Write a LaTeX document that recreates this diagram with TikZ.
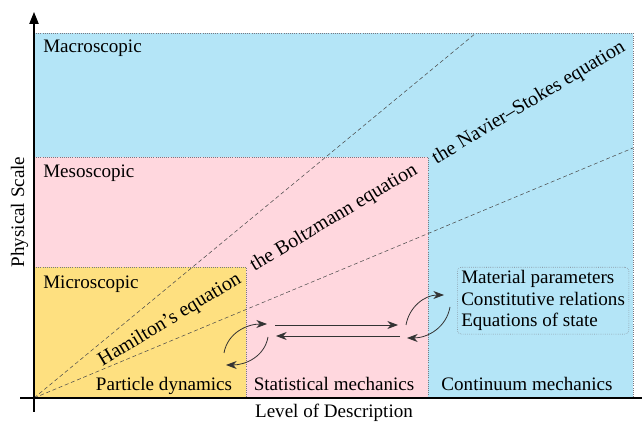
\documentclass[tikz,border=0pt]{standalone}
\usepackage{fontspec}
\setmainfont{Liberation Serif}
\usetikzlibrary{arrows.meta}
\definecolor{macro}{RGB}{180,229,247}
\definecolor{meso}{RGB}{255,215,222}
\definecolor{micro}{RGB}{254,224,128}
\definecolor{bord}{RGB}{120,120,130}
\tikzset{
  region/.style={draw=bord, densely dotted, line width=0.6pt},
  lbl/.style={font=\fontsize{14.3}{16}\selectfont, inner sep=0pt},
  eqn/.style={font=\fontsize{15}{17}\selectfont, inner sep=0pt, rotate=31},
  guide/.style={densely dashed, draw=black!70, line width=0.4pt},
  arr/.style={-{Stealth[length=8pt,width=6pt]}, line width=0.6pt, draw=black!80},
}
\begin{document}
\begin{tikzpicture}[x=0.75pt,y=-0.75pt]
\useasboundingbox (0,0) rectangle (642,423);
\coordinate (O) at (34,398);
\fill[macro] (34,33) rectangle (633,398);
\draw[region] (34,33) -- (633,33) -- (633,398);
\fill[meso] (34,157) rectangle (428,398);
\draw[region] (34,157) -- (428,157) -- (428,398);
\fill[micro] (34,267) rectangle (246,398);
\draw[region] (34,267) -- (246,267) -- (246,398);
\coordinate (g1) at (476,33);
\coordinate (g2) at (633,148);
\draw[guide] (O) -- (g1);
\draw[guide] (O) -- (g2);
% axes
\coordinate (yb) at (34,412);
\coordinate (yt) at (34,12);
\coordinate (xl) at (20,398);
\coordinate (xr) at (642,398);
\draw[line width=0.8pt, -{Triangle[length=9pt,width=7pt]}] (yb) -- (yt);
\draw[line width=0.8pt] (xl) -- (xr);
\node[lbl, anchor=base west] (macro) at (43,53) {Macroscopic};
\node[lbl, anchor=base west] (meso) at (43,178) {Mesoscopic};
\node[lbl, anchor=base west] (micro) at (43,289) {Microscopic};
\node[lbl, anchor=base] (pd) at (164,391) {Particle dynamics};
\node[lbl, anchor=base] (sm) at (334,391) {Statistical mechanics};
\node[lbl, anchor=base] (cm) at (527,391) {Continuum mechanics};
\node[lbl, anchor=base] (xlab) at (334,417) {Level of Description};
\node[lbl, rotate=90, anchor=base] (ylab) at (24,212) {Physical Scale};
\node[eqn] (ham) at (170,320) {Hamilton’s equation};
\node[eqn] (boltz) at (334,218) {the Boltzmann equation};
\node[eqn] (ns) at (529,103) {the Navier–Stokes equation};
\node[draw=bord, densely dotted, rounded corners=3pt, inner xsep=3pt, inner ysep=2.5pt, align=left, anchor=north west,
      font=\fontsize{14.3}{16.1}\selectfont] (box) at (457,267)
  {Material parameters\\Constitutive relations\\Equations of state};
% arrows
\coordinate (a1s) at (275,325); \coordinate (a1e) at (398,325);
\coordinate (a2s) at (400,336); \coordinate (a2e) at (276,336);
\draw[arr] (a1s) -- (a1e);
\draw[arr] (a2s) -- (a2e);
\coordinate (l1s) at (224,353); \coordinate (l1e) at (267,324);
\coordinate (l2s) at (268,337); \coordinate (l2e) at (226,365);
\draw[arr] (l1s) to[out=80,in=180] (l1e);
\draw[arr] (l2s) to[out=-100,in=0] (l2e);
\coordinate (r1s) at (406,325); \coordinate (r1e) at (444,295);
\coordinate (r2s) at (450,307); \coordinate (r2e) at (407,338);
\draw[arr] (r1s) to[out=80,in=180] (r1e);
\draw[arr] (r2s) to[out=-100,in=0] (r2e);
\end{tikzpicture}
\end{document}
